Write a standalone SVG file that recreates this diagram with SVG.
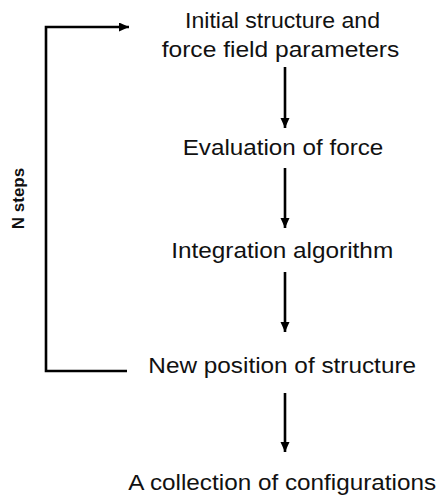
<svg xmlns="http://www.w3.org/2000/svg" width="438" height="498" viewBox="0 0 438 498">
  <style>
    .label { font-family: "Liberation Sans", Arial, sans-serif; font-size: 22px; fill: #111; text-anchor: middle; }
    .side { font-family: "Liberation Sans", Arial, sans-serif; font-size: 17px; font-weight: bold; fill: #111; text-anchor: middle; }
    .edge { fill: none; stroke: #000; stroke-width: 2.6; }
  </style>
  <defs>
    <marker id="head" markerUnits="userSpaceOnUse" markerWidth="12" markerHeight="10" refX="10" refY="4.5" orient="auto">
      <path d="M0,0 L10,4.5 L0,9 Z" fill="#000"/>
    </marker>
  </defs>
  <rect width="438" height="498" fill="#fff"/>

  <g id="connectors">
    <!-- loop back from the new position to the start -->
    <path class="edge" d="M127,371 H46 V27 H129" marker-end="url(#head)"/>
    <path class="edge" d="M285,67 V128" marker-end="url(#head)"/>
    <path class="edge" d="M285,168 V228" marker-end="url(#head)"/>
    <path class="edge" d="M285,272 V332" marker-end="url(#head)"/>
    <path class="edge" d="M285,393 V452" marker-end="url(#head)"/>
  </g>

  <g id="loop-label">
    <text class="side" transform="translate(24,198.5) rotate(-90)">N steps</text>
  </g>

  <g id="node-initial">
    <text class="label" x="282.5" y="27.7" textLength="195" lengthAdjust="spacingAndGlyphs">Initial structure and</text>
    <text class="label" x="280.5" y="57.3" textLength="237.6" lengthAdjust="spacingAndGlyphs">force field parameters</text>
  </g>
  <g id="node-force">
    <text class="label" x="283" y="155" textLength="200.6" lengthAdjust="spacingAndGlyphs">Evaluation of force</text>
  </g>
  <g id="node-integration">
    <text class="label" x="282.2" y="258.3" textLength="222" lengthAdjust="spacingAndGlyphs">Integration algorithm</text>
  </g>
  <g id="node-position">
    <text class="label" x="282.2" y="373.3" textLength="267.7" lengthAdjust="spacingAndGlyphs">New position of structure</text>
  </g>
  <g id="node-collection">
    <text class="label" x="282.2" y="489.5" textLength="307.7" lengthAdjust="spacingAndGlyphs">A collection of configurations</text>
  </g>
</svg>
